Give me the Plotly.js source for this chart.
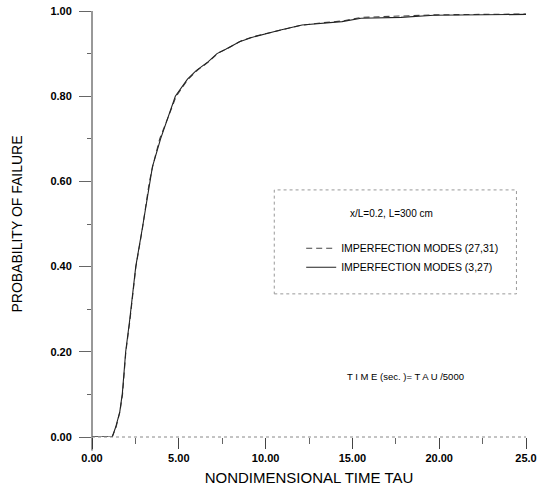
<!DOCTYPE html>
<html>
<head>
<meta charset="utf-8">
<script src="https://cdn.plot.ly/plotly-3.0.1.min.js"></script>
<style>html,body{margin:0;padding:0;background:#fff;}#chart{width:545px;height:496px;}</style>
</head>
<body>
<div id="chart"></div>
<script>
// Series (3,27) - solid
const tauA = [0, 1.17, 1.37, 1.6, 1.75, 1.94, 2.17, 2.52, 2.9, 3.32, 3.48, 3.95, 4.4, 4.8, 5.5, 6.0, 6.7, 7.2, 7.7, 8.5, 9.2, 10.0, 10.8, 12.1, 13.3, 14.4, 15.5, 17.8, 19.7, 25.0];
const probA = [0, 0, 0.024, 0.059, 0.103, 0.2, 0.274, 0.40, 0.49, 0.60, 0.634, 0.70, 0.755, 0.80, 0.84, 0.86, 0.881, 0.90, 0.91, 0.928, 0.938, 0.947, 0.955, 0.967, 0.971, 0.975, 0.983, 0.985, 0.99, 0.992];
// Series (27,31) - dashed
const tauB = [0, 1.15, 1.38, 1.6, 1.76, 1.95, 2.18, 2.53, 2.9, 3.3, 3.5, 3.9, 4.4, 4.85, 5.5, 6.1, 6.7, 7.3, 7.8, 8.6, 9.3, 10.1, 11.0, 12.0, 13.2, 14.5, 15.5, 17.5, 19.8, 25.0];
const probB = [0, 0, 0.022, 0.058, 0.10, 0.2, 0.272, 0.40, 0.488, 0.598, 0.636, 0.70, 0.752, 0.80, 0.838, 0.862, 0.88, 0.902, 0.912, 0.93, 0.94, 0.948, 0.957, 0.966, 0.972, 0.977, 0.985, 0.987, 0.991, 0.993];
const xTickVals = [0, 5, 10, 15, 20, 25];
const xTickText = ["0.00", "5.00", "10.00", "15.00", "20.00", "25.0"];
const yTickVals = [0, 0.2, 0.4, 0.6, 0.8, 1.0];
const yTickText = ["0.00", "0.20", "0.40", "0.60", "0.80", "1.00"];
const seriesNames = ["IMPERFECTION MODES (27,31)", "IMPERFECTION MODES (3,27)"];

const FONT = "Liberation Sans, Arial, sans-serif";

const traces = [
  {x: tauB, y: probB, name: seriesNames[0], mode: "lines", line: {color: "#444", width: 1.1, dash: "6px,4px"}},
  {x: tauA, y: probA, name: seriesNames[1], mode: "lines", line: {color: "#222", width: 1.1}}
];

const layout = {
  width: 545, height: 496,
  margin: {l: 92, r: 19, t: 11, b: 59},
  paper_bgcolor: "#fff", plot_bgcolor: "#fff",
  showlegend: true,
  legend: {
    x: 0.482, y: 0.477, xanchor: "left", yanchor: "top",
    bgcolor: "rgba(0,0,0,0)", borderwidth: 0,
    font: {family: FONT, size: 10.5, color: "#000"},
    itemwidth: 30, tracegroupgap: 0
  },
  xaxis: {
    range: [0, 25], showgrid: false, zeroline: false, showline: false,
    tickmode: "array", tickvals: xTickVals, ticktext: xTickText,
    ticks: "outside", ticklen: 11, tickcolor: "#444", tickwidth: 1,
    tickfont: {family: FONT, size: 11, color: "#000", weight: "bold"},
    minor: {dtick: 2.5, ticks: "outside", ticklen: 6, tickcolor: "#666"},
    title: {text: "NONDIMENSIONAL TIME TAU", font: {family: FONT, size: 15, color: "#000"}, standoff: 9}
  },
  yaxis: {
    range: [0, 1], showgrid: false, zeroline: false, showline: false,
    tickmode: "array", tickvals: yTickVals, ticktext: yTickText,
    ticks: "outside", ticklen: 12, tickcolor: "#666", tickwidth: 1,
    ticklabelstandoff: 5,
    tickfont: {family: FONT, size: 11, color: "#000", weight: "bold"},
    minor: {dtick: 0.1, ticks: "outside", ticklen: 4, tickcolor: "#666"},
    title: {text: "PROBABILITY OF FAILURE", font: {family: FONT, size: 14, color: "#000"}, standoff: 24}
  },
  shapes: [
    // y axis line extending below zero
    {type: "line", xref: "paper", yref: "paper", x0: 0, x1: 0, y0: -0.032, y1: 1, line: {color: "#333", width: 1}},
    // dotted x axis baseline
    {type: "line", xref: "paper", yref: "paper", x0: 0, x1: 1, y0: 0, y1: 0, line: {color: "#888", width: 1, dash: "dot"}},
    // legend box
    {type: "rect", xref: "paper", yref: "paper", x0: 0.42, x1: 0.978, y0: 0.336, y1: 0.58, line: {color: "#999", width: 1, dash: "dot"}}
  ],
  annotations: [
    {xref: "paper", yref: "paper", x: 0.69, y: 0.525, xanchor: "center", yanchor: "middle", text: "x/L=0.2, L=300 cm", showarrow: false, font: {family: FONT, size: 10, color: "#000"}},
    {xref: "paper", yref: "paper", x: 0.583, y: 0.141, xanchor: "left", yanchor: "middle", text: "T I M E (sec. )= T A U /5000", showarrow: false, font: {family: FONT, size: 9.5, color: "#000"}}
  ]
};

Plotly.newPlot("chart", traces, layout, {displayModeBar: false, staticPlot: true});
</script>
</body>
</html>
